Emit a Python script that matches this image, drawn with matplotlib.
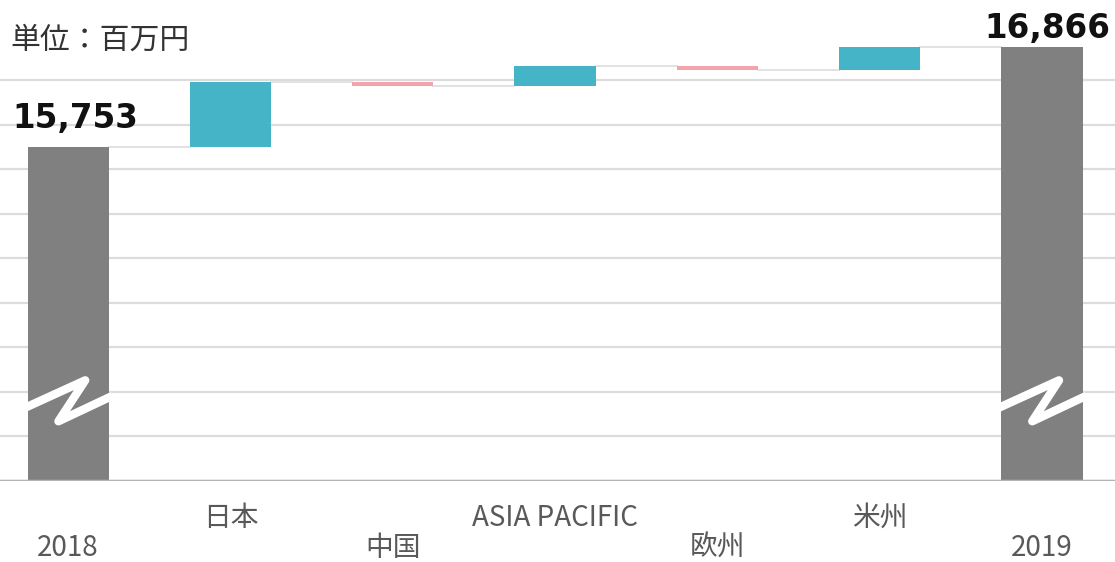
import matplotlib
matplotlib.use('Agg')
import matplotlib.pyplot as plt
from matplotlib.transforms import blended_transform_factory

plt.rcParams['font.family'] = ['Noto Sans CJK JP', 'DejaVu Sans']

# 売上高の増減（単位：百万円）
categories = ['2018', '日本', '中国', 'ASIA PACIFIC', '欧州', '米州', '2019']
start_total = 15753
end_total = 16866
deltas = [720, -35, 215, -40, 253]   # 日本, 中国, ASIA PACIFIC, 欧州, 米州
unit_label = '単位：百万円'

axis_min = 12000
axis_max = 17398
grid_values = list(range(12000, 17000, 500))

gray = '#808080'
up_color = '#46B4C7'
down_color = '#F4A3AB'
grid_color = '#DCDCDC'
label_color = '#595959'

fig = plt.figure(figsize=(11.15, 5.62), dpi=100)
ax = fig.add_axes([0, 81 / 562, 1, 481 / 562])
ax.set_xlim(-0.42, 6.45)
ax.set_ylim(axis_min, axis_max)
ax.axis('off')

# 補助線
for g in grid_values:
    ax.axhline(g, color=grid_color, lw=1.6, zorder=0)

w = 0.5
n = len(categories)

# 期首・期末の棒
ax.bar(0, start_total - axis_min, bottom=axis_min, width=w, color=gray, zorder=2)
ax.bar(n - 1, end_total - axis_min, bottom=axis_min, width=w, color=gray, zorder=2)

# 増減の棒と接続線
running = start_total
for i, d in enumerate(deltas, start=1):
    color = up_color if d >= 0 else down_color
    ax.bar(i, d, bottom=running, width=w, color=color, zorder=2)
    ax.plot([i - 1 + w / 2, i - w / 2], [running, running], color='#E2E2E2', lw=1.4, zorder=1)
    running += d
ax.plot([n - 2 + w / 2, n - 1 - w / 2], [running, running], color='#E2E2E2', lw=1.4, zorder=1)

# 棒の底の線
ax.axhline(axis_min, color='#B4B4B4', lw=2.5, zorder=3)

# 省略記号（波線）
zx = [-0.34, 0.105, -0.06, 0.26]
zy = [12760, 13130, 12670, 12945]
for c in (0, n - 1):
    ax.plot([c + x for x in zx], zy, color='white', lw=6,
            solid_joinstyle='round', solid_capstyle='round', zorder=4)

# 合計値のラベル
totals = [(0, start_total, 7, 12), (n - 1, end_total, 5, 2)]
for x, v, dx, dy in totals:
    ax.annotate(f'{v:,}', xy=(x, v), xytext=(dx, dy), textcoords='offset pixels',
                ha='center', va='bottom', fontsize=23.5, fontweight='bold',
                family='DejaVu Sans', color='#111111')

# カテゴリ名（2段）
trans = blended_transform_factory(ax.transData, ax.transAxes)
for i, name in enumerate(categories):
    off = -37 if i % 2 == 1 else -67
    ax.annotate(name, xy=(i, 0), xycoords=trans, xytext=(0, off),
                textcoords='offset pixels', ha='center', va='center',
                fontsize=20, color=label_color, annotation_clip=False)

fig.text(10 / 1115, 1 - 40 / 562, unit_label, ha='left', va='center',
         fontsize=21.5, color='#333333')

fig.savefig('out.png', dpi=100)
